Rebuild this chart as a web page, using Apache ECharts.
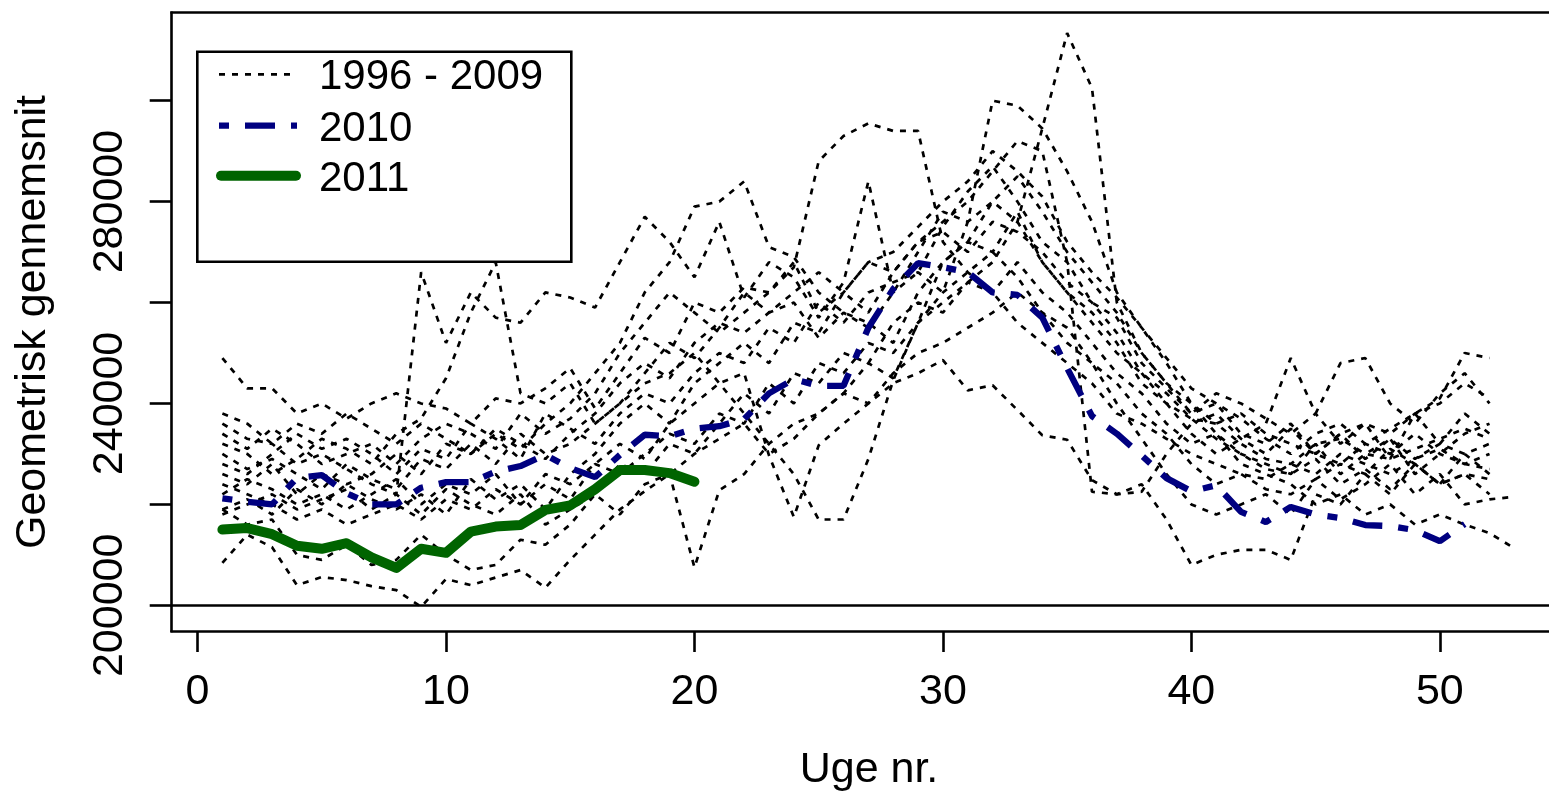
<!DOCTYPE html>
<html><head><meta charset="utf-8">
<script src="https://cdn.jsdelivr.net/npm/echarts@6/dist/echarts.min.js"></script>
<style>html,body{margin:0;padding:0;background:#fff}#c{width:1549px;height:794px}</style>
</head><body><div id="c"></div>
<script>
const weeks = [1,2,3,4,5,6,7,8,9,10,11,12,13,14,15,16,17,18,19,20,21,22,23,24,25,26,27,28,29,30,31,32,33,34,35,36,37,38,39,40,41,42,43,44,45,46,47,48,49,50,51,52,53];
const xTicks = [0,10,20,30,40,50];
const yTicks = [200000,220000,240000,260000,280000,300000];
const yLabels = [200000,240000,280000];
const legendNames = ['1996 - 2009','2010','2011'];

const y1996 = [249000,243000,243000,238000,240000,237000,240000,242000,240000,239000,236000,241000,240000,243000,247000,239000,246000,253000,250000,260000,258000,263000,262000,268000,258000,262000,268000,270000,275000,280000,284000,290000,286000,281000,272000,266000,261000,255000,249000,243000,240000,237000,233000,230000,234000,236000,232000,235000,238000,241000,250000,249000];
const y1997 = [236000,233000,232000,228000,230000,227000,224000,222000,266000,252000,262000,257000,256000,262000,261000,259000,268000,277000,272000,265000,276000,261000,268000,265000,257000,264000,284000,262000,266000,275000,282000,287000,280000,272000,268000,260000,257000,248000,243000,238000,240000,234000,232000,236000,230000,234000,236000,229000,238000,232000,238000,234000];
const y1998 = [232000,230000,226000,229000,233000,231000,228000,234000,237000,245000,258000,268000,242000,240000,244000,236000,240000,246000,252000,249000,255000,262000,258000,260000,253000,258000,255000,262000,270000,278000,276000,280000,276000,268000,262000,258000,252000,244000,240000,237000,236000,232000,229000,228000,232000,233000,230000,229000,231000,233000,235000,233000];
const y1999 = [208400,214000,211500,204000,205600,205000,203800,203000,199700,205200,204000,205500,207000,203500,209000,214000,219000,222600,226000,230000,233000,236000,230000,233000,238000,242000,240000,246000,250000,252000,255000,258000,262000,258000,255000,248000,240000,233000,226000,220000,218000,220000,222000,218000,225000,228000,226000,231000,228000,224000,226000,222000];
const y2000 = [219000,216000,217000,210000,209000,212000,208000,209000,214000,210000,207000,208000,213000,212000,216000,222000,218000,224000,226000,207500,222800,226000,232000,236000,238000,242000,248000,245000,256000,262000,266000,270000,265000,258000,252000,248000,244000,238000,234000,228000,224000,226000,223000,222000,225000,221000,224000,228000,222000,226000,220000,221000,221500];
const y2001 = [226000,224000,228000,222000,226000,224000,226000,230000,226000,232000,230000,234000,231000,236000,240000,246000,252000,262000,268000,279000,280000,284000,271000,269000,262000,258000,256000,252000,262000,268000,272000,280000,285000,278000,270000,264000,258000,250000,244000,240000,236000,238000,234000,232000,230000,228000,232000,230000,234000,230000,228000,230000];
const y2002 = [230000,227000,229000,226000,223000,228000,225000,223000,229000,227000,232000,228000,234000,230000,232000,236000,240000,244000,246000,250000,244000,238000,232000,226000,217000,217000,229000,244600,256000,268000,272000,270000,278000,268000,262000,256000,250000,246000,242000,237000,233000,230000,227000,226000,229000,224000,227000,223000,228000,224000,226000,225000];
const y2003 = [234000,231000,235000,232000,228000,230000,232000,228000,233000,236000,234000,231000,238000,234000,237000,242000,250000,256000,262000,258000,254000,258000,262000,267000,288000,293000,295500,294000,294000,272000,266000,262000,256000,252000,248000,244000,238000,236000,233000,230000,228000,226000,225000,228000,226000,230000,228000,226000,229000,231000,228000,227000];
const y2004 = [228000,226000,230000,234000,231000,233000,230000,226000,231000,229000,236000,233000,229000,238000,235000,232000,238000,242000,240000,246000,250000,248000,255000,252000,260000,256000,262000,264000,266000,262000,276000,300000,299000,294500,286000,276000,262000,255000,248000,240000,234000,230000,228000,226000,232000,226000,230000,233000,226000,230000,234000,236000];
const y2005 = [222000,225000,223000,220000,222000,219000,222000,225000,220000,224000,222000,226000,220000,224000,221000,228000,226000,230000,234000,232000,238000,236000,244000,240000,248000,246000,252000,250000,256000,260000,264000,268000,276000,294500,313400,302500,260000,250000,244000,238000,242000,240000,237000,234000,238000,232000,236000,234000,238000,240000,244000,241000];
const y2006 = [219000,221000,218000,223000,220000,224000,221000,219000,222000,218000,225000,221000,224000,219000,226000,230000,236000,240000,236000,244000,248000,252000,248000,256000,254000,262000,258000,266000,272000,276000,280000,286000,292000,290000,268000,222500,222000,222500,230000,236000,238000,233000,230000,235000,230000,234000,229000,233000,229000,232000,230000,232000];
const y2007 = [224000,222000,220000,217000,219000,216000,218000,220000,217000,221000,219000,223000,220000,226000,224000,228000,232000,229000,236000,240000,244000,246000,229700,217500,231700,236000,240000,244000,246000,248600,242600,243600,238700,233700,232800,224800,222000,224000,217000,208000,210000,211000,211000,209000,222000,220000,226000,222000,228000,224000,230000,226000];
const y2008 = [238000,236000,232000,236000,234000,238000,235000,232000,236000,233000,230000,235000,232000,229000,234000,238000,244000,248000,245000,252000,256000,254000,258000,262000,266000,262000,268000,266000,272000,274000,270000,276000,274000,270000,264000,260000,254000,246000,240000,234000,230000,233000,236000,249000,238000,248000,249000,240000,236000,242000,246000,240000];
const y2009 = [218000,220000,222000,219000,221000,223000,219000,222000,218000,223000,220000,218000,222000,216000,219000,222000,228000,226000,232000,230000,236000,242000,238000,246000,244000,250000,248000,256000,260000,258000,264000,262000,268000,262000,258000,252000,246000,242000,236000,232000,234000,228000,226000,224000,220000,222000,218000,220000,216000,218000,216000,214300,211300];
const y2010 = [221200,220500,220000,225200,225800,222200,220000,220000,223300,224400,224400,226500,227600,229800,227200,225400,229800,233800,233500,235000,235500,236900,242000,244800,243500,243500,255000,262700,267800,267000,266000,262000,261500,257000,247000,237500,234000,229700,225200,222600,223800,218500,216500,219500,218000,217300,215900,215700,214900,212700,216100];
const y2011 = [215000,215300,214100,211800,211200,212300,209500,207400,211200,210400,214600,215600,215900,218900,219800,223000,226800,226800,226200,224500];

const oldYears = [y1996,y1997,y1998,y1999,y2000,y2001,y2002,y2003,y2004,y2005,y2006,y2007,y2008,y2009];

const FONT = "'Liberation Sans', Arial, sans-serif";
const toPairs = arr => arr.map((v, i) => [weeks[i], v]);
const frame = { show: true, onZero: false, lineStyle: { color: '#000', width: 2.6, cap: 'square' } };

const series = oldYears.map((arr, k) => {
  const s = {
    type: 'line', data: toPairs(arr), symbol: 'none', showSymbol: false, silent: true,
    lineStyle: { color: '#000', width: 2.7, type: [6, 7], cap: 'butt' }, z: 2
  };
  if (k === 0) {
    s.markLine = { silent: true, symbol: 'none', label: { show: false },
      lineStyle: { color: '#000', width: 2.6, type: 'solid' }, data: [{ yAxis: 200000 }] };
  }
  return s;
});
series.push({ type: 'line', data: toPairs(y2010), symbol: 'none', showSymbol: false, silent: true,
  lineStyle: { color: '#000080', width: 6.3, type: [10, 16, 30, 16], cap: 'butt' }, z: 3 });
series.push({ type: 'line', data: toPairs(y2011), symbol: 'none', showSymbol: false, silent: true,
  lineStyle: { color: '#006400', width: 10, cap: 'round', join: 'round' }, z: 4 });

const chart = echarts.init(document.getElementById('c'));
chart.setOption({
  animation: false,
  backgroundColor: '#fff',
  grid: { left: 171.7, top: 12.7, right: 0, bottom: 163, show: false, containLabel: false },
  xAxis: [{
    type: 'value', position: 'bottom', min: -1.04, max: 54.394,
    axisLine: frame, splitLine: { show: false },
    axisTick: { show: true, length: 21, lineStyle: { color: '#000', width: 2.6 }, customValues: xTicks },
    axisLabel: { customValues: xTicks, margin: 61, fontSize: 43, color: '#000', fontFamily: FONT, verticalAlign: 'middle' }
  }, {
    type: 'value', position: 'top', min: -1.04, max: 54.394,
    axisLine: frame, splitLine: { show: false }, axisTick: { show: false }, axisLabel: { show: false }
  }],
  yAxis: {
    type: 'value', min: 194909, max: 317434,
    axisLine: frame, splitLine: { show: false },
    axisTick: { show: true, length: 22, lineStyle: { color: '#000', width: 2.6 }, customValues: yTicks },
    axisLabel: { customValues: yLabels, rotate: 90, margin: 61.5, fontSize: 43, color: '#000', fontFamily: FONT,
      align: 'center', verticalAlign: 'middle', formatter: v => String(v) }
  },
  series: series,
  graphic: [
    { type: 'text', x: 869, y: 770, style: { text: 'Uge nr.', fontSize: 43, fontFamily: FONT, fill: '#000', align: 'center', verticalAlign: 'middle' } },
    { type: 'text', x: 33.5, y: 322, rotation: Math.PI / 2, style: { text: 'Geometrisk gennemsnit', fontSize: 43, fontFamily: FONT, fill: '#000', align: 'center', verticalAlign: 'middle' } },
    { type: 'rect', shape: { x: 197.3, y: 51.7, width: 374, height: 210 }, style: { fill: '#fff', stroke: '#000', lineWidth: 2.6 }, z: 10 },
    { type: 'line', shape: { x1: 219, y1: 74.3, x2: 297, y2: 74.3 }, style: { stroke: '#000', lineWidth: 2.7, lineDash: [6, 7] }, z: 11 },
    { type: 'line', shape: { x1: 219, y1: 125.7, x2: 297, y2: 125.7 }, style: { stroke: '#000080', lineWidth: 6.3, lineDash: [10, 16, 30, 16] }, z: 11 },
    { type: 'line', shape: { x1: 221, y1: 175.7, x2: 296, y2: 175.7 }, style: { stroke: '#006400', lineWidth: 10, lineCap: 'round' }, z: 11 },
    { type: 'text', x: 319, y: 77, style: { text: legendNames[0], fontSize: 42, fontFamily: FONT, fill: '#000', align: 'left', verticalAlign: 'middle' }, z: 11 },
    { type: 'text', x: 319, y: 129.5, style: { text: legendNames[1], fontSize: 42, fontFamily: FONT, fill: '#000', align: 'left', verticalAlign: 'middle' }, z: 11 },
    { type: 'text', x: 319, y: 179, style: { text: legendNames[2], fontSize: 42, fontFamily: FONT, fill: '#000', align: 'left', verticalAlign: 'middle' }, z: 11 }
  ]
});
</script></body></html>
